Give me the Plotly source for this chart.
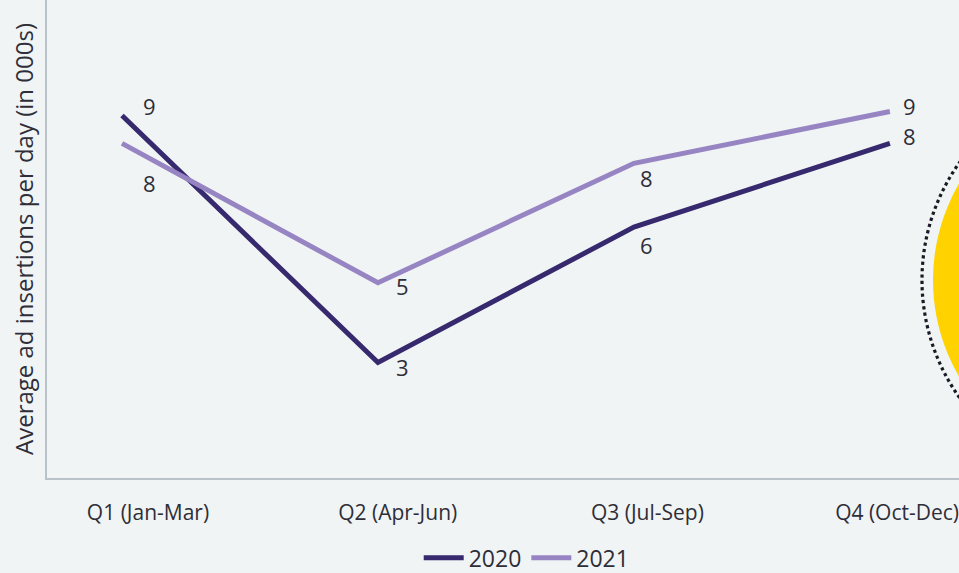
import plotly.graph_objects as go

quarters = ["Q1 (Jan-Mar)", "Q2 (Apr-Jun)", "Q3 (Jul-Sep)", "Q4 (Oct-Dec)"]
values_2020 = [9.1, 2.9, 6.3, 8.4]
values_2021 = [8.4, 4.9, 7.9, 9.2]
labels_2020 = ["9", "3", "6", "8"]
labels_2021 = ["8", "5", "8", "9"]

c2020 = "#36296e"
c2021 = "#9785c3"
bg = "#f1f4f5"
txt = "#2e2e38"
font = "Open Sans"

fig = go.Figure()
fig.add_trace(go.Scatter(x=quarters, y=values_2020, mode="lines", name="2020",
                         line=dict(color=c2020, width=5)))
fig.add_trace(go.Scatter(x=quarters, y=values_2021, mode="lines", name="2021",
                         line=dict(color=c2021, width=5)))
# empty trace so the tick-label axis is drawn
fig.add_trace(go.Scatter(x=[], y=[], xaxis="x2", yaxis="y", showlegend=False,
                         hoverinfo="skip"))

shift_2020 = [(27, 10), (25, -5), (13, -18), (20, 7)]
shift_2021 = [(27, -40), (25, -3), (13, -15), (20, 6)]
for q, v, t, (dx, dy) in zip(quarters, values_2020, labels_2020, shift_2020):
    fig.add_annotation(x=q, y=v, text=t, showarrow=False, xshift=dx, yshift=dy,
                       font=dict(size=22, color=txt, family=font))
for q, v, t, (dx, dy) in zip(quarters, values_2021, labels_2021, shift_2021):
    fig.add_annotation(x=q, y=v, text=t, showarrow=False, xshift=dx, yshift=dy,
                       font=dict(size=22, color=txt, family=font))

# decorative yellow circle with dotted ring at the right edge
fig.add_shape(type="circle", xref="paper", yref="paper", xsizemode="pixel", ysizemode="pixel",
              xanchor=1.182, yanchor=0.414, x0=-203, x1=203, y0=-203, y1=203,
              line=dict(color="#1a1a24", width=3.2, dash="dot"), fillcolor="rgba(0,0,0,0)")
fig.add_shape(type="circle", xref="paper", yref="paper", xsizemode="pixel", ysizemode="pixel",
              xanchor=1.182, yanchor=0.414, x0=-192, x1=192, y0=-192, y1=192,
              line=dict(width=0), fillcolor="#ffd200")

fig.update_layout(
    width=959, height=573,
    margin=dict(l=47, r=0, t=0, b=95, autoexpand=False),
    paper_bgcolor=bg, plot_bgcolor=bg,
    font=dict(family=font, color=txt),
    showlegend=True,
    legend=dict(orientation="h", x=0.526, xanchor="center", y=-0.122, yanchor="top",
                font=dict(size=23, color=txt, family=font), itemwidth=40,
                traceorder="normal", bgcolor="rgba(0,0,0,0)"),
    xaxis=dict(type="category", range=[-0.293, 3.27], showgrid=False, zeroline=False,
               showline=True, linecolor="#b9c1c9", linewidth=1.5, ticks="",
               showticklabels=False),
    xaxis2=dict(overlaying="x", anchor="y", side="bottom", range=[-0.4045, 3.248],
                tickvals=list(range(len(quarters))), ticktext=quarters,
                showgrid=False, zeroline=False, showline=False, ticks="",
                ticklabeloverflow="allow",
                ticklabelstandoff=20, tickfont=dict(size=21, color=txt, family=font)),
    yaxis=dict(range=[0, 12], showgrid=False, zeroline=False, showticklabels=False,
               showline=True, linecolor="#b9c1c9", linewidth=1.5, ticks="",
               title=dict(text="Average ad insertions per day (in 000s)", standoff=5,
                          font=dict(size=24, color=txt, family=font))),
)

fig.write_html("out.html", config={"displayModeBar": False},
               post_script="document.body.style.margin='0';document.body.style.overflow='hidden';"
                           "document.body.style.background='" + bg + "';")
